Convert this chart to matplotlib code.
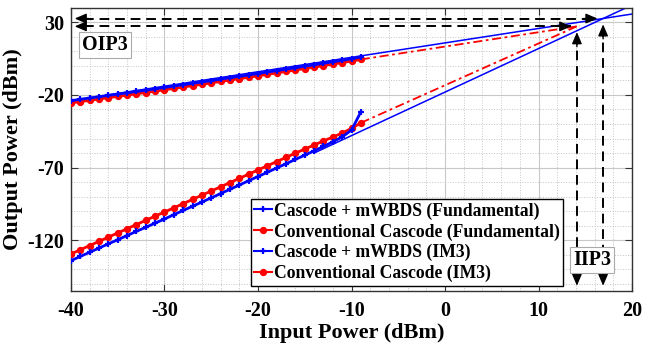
import numpy as np
import matplotlib
matplotlib.use("Agg")
import matplotlib.pyplot as plt
from matplotlib.ticker import MultipleLocator

plt.rcParams['font.family'] = ['Liberation Serif', 'DejaVu Serif']
plt.rcParams['font.weight'] = 'bold'
plt.rcParams['axes.unicode_minus'] = False

# input power sweep (dBm)
pin = [-40, -39, -38, -37, -36, -35, -34, -33, -32, -31, -30, -29, -28, -27, -26, -25,
       -24, -23, -22, -21, -20, -19, -18, -17, -16, -15, -14, -13, -12, -11, -10, -9]

fund_mwbds = [-23.9, -23.0, -22.1, -21.2, -20.3, -19.4, -18.5, -17.6, -16.7, -15.8, -14.8,
              -13.9, -12.9, -12.0, -11.0, -10.1, -9.1, -8.1, -7.2, -6.2, -5.2, -4.2, -3.2,
              -2.2, -1.2, -0.2, 0.8, 1.8, 2.9, 3.9, 5.0, 6.2]
fund_conv = [-25.5, -24.6, -23.7, -22.8, -21.9, -21.0, -20.1, -19.2, -18.3, -17.4, -16.4,
             -15.5, -14.5, -13.6, -12.6, -11.7, -10.7, -9.7, -8.8, -7.8, -6.8, -5.8, -4.8,
             -3.8, -2.8, -1.8, -0.8, 0.2, 1.3, 2.3, 3.4, 4.5]
im3_mwbds = [-134.2, -131.3, -128.4, -125.5, -122.6, -119.8, -116.9, -114.0, -111.2, -108.3,
             -105.5, -102.5, -99.6, -96.7, -93.8, -90.9, -88.0, -85.0, -82.1, -79.1, -76.2,
             -73.3, -70.3, -67.4, -64.4, -61.5, -58.5, -55.5, -52.3, -48.9, -44.2, -31.6]
im3_conv = [-129.6, -126.7, -123.8, -120.9, -118.0, -115.1, -112.2, -109.3, -106.4, -103.5,
            -100.7, -97.8, -94.9, -92.0, -89.1, -86.2, -83.3, -80.4, -77.5, -74.6, -71.7,
            -68.8, -65.9, -63.0, -60.1, -57.3, -54.5, -51.7, -49.0, -46.3, -43.0, -39.2]

# extrapolation lines (end points)
ext_fund_mwbds_x = [-40, 20]
ext_fund_mwbds_y = [-23.9, 35.8]
ext_im3_mwbds_x = [-14, 20]
ext_im3_mwbds_y = [-60.0, 42.0]
ext_fund_conv_x = [-9, 14.4]
ext_fund_conv_y = [4.5, 27.6]
ext_im3_conv_x = [-9, 14.4]
ext_im3_conv_y = [-39.2, 28.2]

# intercept points
iip3 = [16.9, 14.1]
oip3 = [32.7, 27.3]

labels = ['Cascode + mWBDS (Fundamental)', 'Conventional Cascode (Fundamental)',
          'Cascode + mWBDS (IM3)', 'Conventional Cascode (IM3)']

fig = plt.figure(figsize=(6.45, 3.45), dpi=100)
ax = fig.add_axes([0.110, 0.157, 0.870, 0.820])

blue = (0, 0, 1)
red = (1, 0, 0)

ax.plot(ext_fund_mwbds_x, ext_fund_mwbds_y, color=blue, lw=1.1, zorder=2)
ax.plot(ext_im3_mwbds_x, ext_im3_mwbds_y, color=blue, lw=1.1, zorder=2)
ax.plot(ext_fund_conv_x, ext_fund_conv_y, color=red, lw=1.3, ls=(0, (5, 2, 1.5, 2)), zorder=2)
ax.plot(ext_im3_conv_x, ext_im3_conv_y, color=red, lw=1.3, ls=(0, (5, 2, 1.5, 2)), zorder=2)

ax.plot(pin, fund_mwbds, color=blue, lw=2, marker='+', ms=5, mew=1.6, label=labels[0], zorder=4)
ax.plot(pin, fund_conv, color=red, lw=2, marker='.', ms=8.5, label=labels[1], zorder=3)
ax.plot(pin, im3_mwbds, color=blue, lw=2, marker='+', ms=5, mew=1.6, label=labels[2], zorder=4)
ax.plot(pin, im3_conv, color=red, lw=2, marker='.', ms=8.5, label=labels[3], zorder=3)

ax.set_xlim(-40, 20)
ax.set_ylim(-155, 40)
ax.xaxis.set_major_locator(MultipleLocator(10))
ax.xaxis.set_minor_locator(MultipleLocator(2))
ax.set_yticks([-120, -70, -20, 30])
ax.yaxis.set_minor_locator(MultipleLocator(10))
ax.grid(which='major', color='#c8c8c8', lw=0.8, ls='-')
ax.grid(which='minor', color='#c4c4c4', lw=0.7, ls=':')
ax.tick_params(which='major', direction='in', top=True, right=True, length=5,
               labelsize=14.5, color='#333333', pad=7)
ax.tick_params(axis='y', which='major', pad=5)
ax.tick_params(which='minor', length=0)
for s in ax.spines.values():
    s.set_color('#333333')
    s.set_linewidth(1.0)
for t in ax.get_xticklabels() + ax.get_yticklabels():
    t.set_fontweight('bold')

ax.set_xlabel('Input Power (dBm)', fontsize=16, fontweight='bold', labelpad=2)
ax.set_ylabel('Output Power (dBm)', fontsize=16, fontweight='bold', labelpad=3)

# dashed arrows marking OIP3 / IIP3
x_left = -39.6
y_bot = -151.5
for xi, yo in zip(iip3, oip3):
    ax.plot([x_left + 1, xi - 0.6], [yo, yo], color='k', lw=1.4, ls=(0, (5, 3)), zorder=5)
    ax.plot([xi, xi], [yo - 6, y_bot + 6], color='k', lw=1.4, ls=(0, (5, 3)), zorder=5)
    head = dict(arrowstyle='-|>,head_length=0.7,head_width=0.3', color='k', lw=1, shrinkA=0, shrinkB=0)
    ax.annotate('', xy=(x_left, yo), xytext=(x_left + 1.5, yo), arrowprops=head, zorder=6)
    ax.annotate('', xy=(xi - 0.6, yo), xytext=(xi - 2.1, yo), arrowprops=head, zorder=6)
    ax.annotate('', xy=(xi, yo - 4), xytext=(xi, yo - 14), arrowprops=head, zorder=6)
    ax.annotate('', xy=(xi, y_bot), xytext=(xi, y_bot + 10), arrowprops=head, zorder=6)

box = dict(boxstyle='square,pad=0.15', fc='white', ec='#aaaaaa', lw=0.8)
ax.text(-36.4, 14.2, 'OIP3', fontsize=14.5, fontweight='bold', ha='center', va='center',
        bbox=box, zorder=7)
ax.text(15.7, -133.7, 'IIP3', fontsize=14.5, fontweight='bold', ha='center', va='center',
        bbox=box, zorder=7)

leg = ax.legend(loc='lower right', bbox_to_anchor=(0.877, 0.018), borderaxespad=0,
                handlelength=1.0, handletextpad=0.1, labelspacing=0.2,
                borderpad=0.2, fancybox=False, framealpha=1, edgecolor='k',
                prop={'weight': 'bold', 'size': 12.7})
leg.get_frame().set_linewidth(1.0)
for line in leg.get_lines():
    line.set_linewidth(1.5)
leg.set_zorder(8)

fig.savefig('out.png', dpi=100)
